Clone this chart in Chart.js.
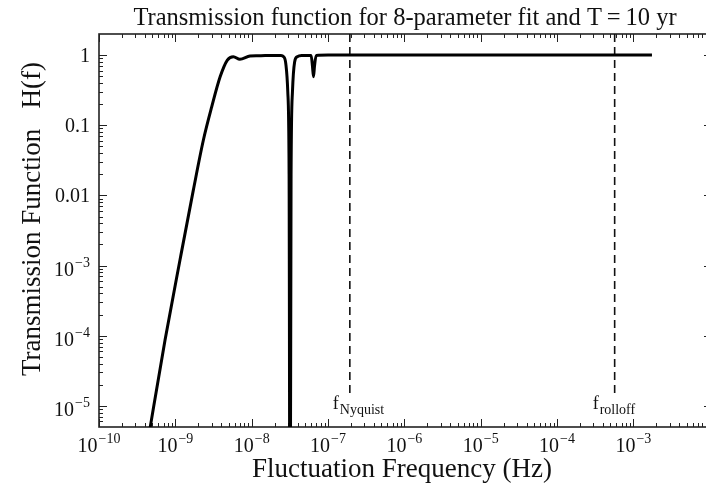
<!DOCTYPE html>
<html>
<head>
<meta charset="utf-8">
<title>Transmission function</title>
<style>
  html, body { margin: 0; padding: 0; overflow: hidden; background: #fff; }
  #wrap { width: 716px; height: 486px; }
</style>
<script src="https://cdn.jsdelivr.net/npm/chart.js@4/dist/chart.umd.min.js"></script>
</head>
<body>
<div id="wrap"><canvas id="chart"></canvas></div>
<script>
// transmission curve H(f)
const freqHz = [4.4e-10, 7.33e-10, 1.15e-9, 1.72e-9, 2.33e-9, 3.0e-9, 3.86e-9, 4.8e-9, 5.75e-9, 7.0e-9,
    9.5e-9, 1.2e-8, 1.5e-8, 2.0e-8, 2.4e-8, 2.62e-8, 2.8e-8, 2.97e-8, 3.09e-8, 3.18e-8,
    3.28e-8, 3.42e-8, 3.65e-8, 3.95e-8, 4.6e-8, 6.0e-8, 6.25e-8, 6.45e-8, 6.65e-8, 7.0e-8,
    1.0e-7, 1.75e-3];
const transmission = [3.3e-6, 8.7e-5, 1.2e-3, 1.19e-2, 0.0616, 0.184, 0.49, 0.85, 0.95, 0.87,
    0.97, 0.98, 0.985, 0.99, 0.985, 0.95, 0.75, 0.3, 0.02, 1e-8,
    0.02, 0.3, 0.8, 0.95, 0.985, 0.99, 0.7, 0.49, 0.7, 0.99,
    1, 1];

const cutoffNames = ['Nyquist', 'rolloff'];
const cutoffFreqs = [1.93e-7, 5.68e-4];

const xTickValues = [1e-10, 1e-9, 1e-8, 1e-7, 1e-6, 1e-5, 1e-4, 1e-3];
const xTickLabels = ['10^-10', '10^-9', '10^-8', '10^-7', '10^-6', '10^-5', '10^-4', '10^-3'];
const yTickValues = [1, 0.1, 0.01, 1e-3, 1e-4, 1e-5];
const yTickLabels = ['1', '0.1', '0.01', '10^-3', '10^-4', '10^-5'];

const serif = '"Liberation Serif", "DejaVu Serif", serif';

// draws "10^-3" style labels with a raised exponent
function drawPow(ctx, label, x, y, align) {
    const parts = label.split('^');
    const base = parts[0];
    const exp = parts[1] ? parts[1].replace('-', '\u2212') : '';
    ctx.font = '20px ' + serif;
    const wb = ctx.measureText(base).width;
    let we = 0;
    if (exp) {
        ctx.font = '14px ' + serif;
        we = ctx.measureText(exp).width + 1;
    }
    const total = wb + we;
    let x0 = x;
    if (align === 'center') x0 = x - total / 2;
    if (align === 'right') x0 = x - total;
    ctx.textAlign = 'left';
    ctx.textBaseline = 'alphabetic';
    ctx.font = '20px ' + serif;
    ctx.fillText(base, x0, y);
    if (exp) {
        ctx.font = '14px ' + serif;
        ctx.fillText(exp, x0 + wb + 1, y - 9);
    }
}

const framePlugin = {
    id: 'frame',
    beforeDatasetsDraw(chart) {
        const ctx = chart.ctx;
        const a = chart.chartArea;
        const xs = chart.scales.x, ys = chart.scales.y;
        ctx.save();
        ctx.strokeStyle = '#222';
        ctx.lineWidth = 1;
        // minor + major ticks on x, pointing inward, top and bottom
        for (let k = -10; k < -1; k++) {
            for (let m = 1; m < 10; m++) {
                const v = m * Math.pow(10, k);
                if (v > xs.max) continue;
                const px = Math.round(xs.getPixelForValue(v)) + 0.5;
                const len = m === 1 ? 8 : 4;
                ctx.beginPath();
                ctx.moveTo(px, a.bottom); ctx.lineTo(px, a.bottom - len);
                ctx.moveTo(px, a.top); ctx.lineTo(px, a.top + len);
                ctx.stroke();
            }
        }
        for (let k = -6; k < 1; k++) {
            for (let m = 1; m < 10; m++) {
                const v = m * Math.pow(10, k);
                if (v < ys.min || v >= ys.max) continue;
                const py = Math.round(ys.getPixelForValue(v)) + 0.5;
                const len = m === 1 ? 8 : 4;
                ctx.beginPath();
                ctx.moveTo(a.left, py); ctx.lineTo(a.left + len, py);
                ctx.moveTo(a.right, py); ctx.lineTo(a.right - len, py);
                ctx.stroke();
            }
        }
        ctx.lineWidth = 1.6;
        ctx.strokeRect(a.left, a.top, a.right - a.left, a.bottom - a.top);
        ctx.restore();
    },
    afterDraw(chart) {
        const ctx = chart.ctx;
        const a = chart.chartArea;
        const xs = chart.scales.x, ys = chart.scales.y;
        const cx = (a.left + a.right) / 2;
        ctx.save();
        ctx.fillStyle = '#111';

        xTickValues.forEach((v, i) => drawPow(ctx, xTickLabels[i], xs.getPixelForValue(v), 452, 'center'));
        yTickValues.forEach((v, i) => {
            const py = ys.getPixelForValue(v);
            const lbl = yTickLabels[i];
            drawPow(ctx, lbl, a.left - 9, py + (lbl.indexOf('^') > 0 ? 10 : 7), 'right');
        });

        // f_Nyquist, f_rolloff labels left of the dashed lines
        const shift = [17, 22];
        cutoffFreqs.forEach((f, i) => {
            const x0 = xs.getPixelForValue(f) - shift[i];
            ctx.textAlign = 'left';
            ctx.font = '18px ' + serif;
            ctx.fillText('f', x0, 409);
            const wf = ctx.measureText('f').width;
            ctx.font = '14px ' + serif;
            ctx.fillText(cutoffNames[i], x0 + wf + 1, 414);
        });

        ctx.textAlign = 'center';
        ctx.font = '24.5px ' + serif;
        ctx.fillText('Transmission function for 8-parameter fit and T\u2009=\u200910 yr', 405, 25);
        ctx.font = '27px ' + serif;
        ctx.fillText('Fluctuation Frequency (Hz)', 402, 477);

        ctx.translate(40, 219);
        ctx.rotate(-Math.PI / 2);
        ctx.fillText('Transmission Function   H(f)', 0, 0);
        ctx.restore();
    }
};

const curve = freqHz.map((f, i) => ({ x: f, y: transmission[i] }));
const datasets = [{
    data: curve,
    borderColor: '#000',
    borderWidth: 3,
    pointRadius: 0,
    showLine: true,
    cubicInterpolationMode: 'monotone'
}];
cutoffFreqs.forEach(f => {
    datasets.push({
        data: [{ x: f, y: 2 }, { x: f, y: 1.4e-5 }],
        borderColor: '#111',
        borderWidth: 1.6,
        borderDash: [8, 5],
        pointRadius: 0,
        showLine: true
    });
});

const chart = new Chart(document.getElementById('chart').getContext('2d'), {
    type: 'scatter',
    data: { datasets: datasets },
    options: {
        responsive: true,
        maintainAspectRatio: false,
        animation: false,
        devicePixelRatio: 1,
        layout: { padding: { left: 99, right: 4, top: 34, bottom: 59 } },
        plugins: { legend: { display: false }, tooltip: { enabled: false } },
        scales: {
            x: { type: 'logarithmic', min: 1e-10, max: 1.07e-2, display: false },
            y: { type: 'logarithmic', min: 5e-6, max: 2, display: false }
        }
    },
    plugins: [framePlugin]
});
</script>
</body>
</html>
